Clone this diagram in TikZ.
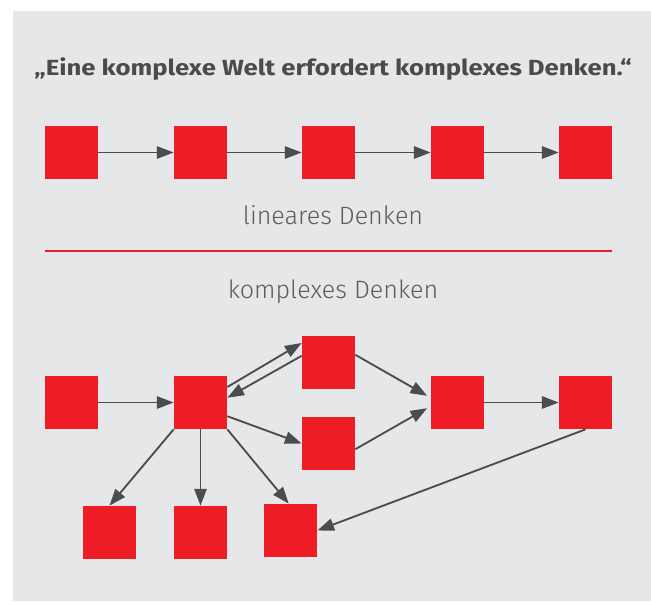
\documentclass[tikz,border=0pt]{standalone}
\usepackage{fontspec}
\setmainfont{Fira Sans}
\newfontfamily\thinfont{Fira Sans Light}
\usepackage{tikz}
\usetikzlibrary{arrows.meta}

\definecolor{panelgrey}{HTML}{E6E7E9}
\definecolor{boxred}{HTML}{EE1D25}
\definecolor{arrowgrey}{HTML}{4B4C4E}
\definecolor{textgrey}{HTML}{4A4B4D}
\definecolor{labelgrey}{HTML}{5B5C5E}

\begin{document}
\begin{tikzpicture}[x=0.02cm, y=-0.02cm,
    box/.style={fill=boxred, draw=none, inner sep=0pt, minimum size=1.06cm},
    flow/.style={draw=arrowgrey, line width=1.05pt, -{Triangle[length=9.5pt, width=7pt]}},
    caption/.style={text=labelgrey, font=\thinfont\fontsize{14.3}{16}\selectfont, anchor=base}]
    \useasboundingbox (0, 0) rectangle (651, 601);
    \fill[panelgrey] (13, 11) rectangle (651, 601);

    \node[text=textgrey, font=\bfseries\fontsize{12.5}{14}\selectfont, anchor=base] (title) at (333, 76)
        {\scalebox{1.17}[1]{„Eine komplexe Welt erfordert komplexes Denken.“}};

    % linear
    \foreach \i/\x in {1/71.5, 2/200.5, 3/328.5, 4/457.5, 5/585.5}
        \node[box] (l\i) at (\x, 152.5) {};
    \foreach \i/\j in {1/2, 2/3, 3/4, 4/5}
        \draw[flow] (l\i.east) -- (l\j.west);
    \node[caption] (lin) at (333, 224) {lineares Denken};

    \draw[boxred, line width=1.1pt] (45, 251) coordinate (sepl) -- (612, 251) coordinate (sepr);

    % complex
    \node[caption] (kom) at (333, 298) {komplexes Denken};
    \node[box] (start) at (71.5, 402.5) {};
    \node[box] (hub) at (200.5, 402.5) {};
    \node[box] (upper) at (328.5, 362.5) {};
    \node[box] (lower) at (328.5, 443.5) {};
    \node[box] (merge) at (457.5, 402.5) {};
    \node[box] (last) at (585.5, 402.5) {};
    \node[box] (leaf1) at (109.5, 532.5) {};
    \node[box] (leaf2) at (200.5, 532.5) {};
    \node[box] (leaf3) at (290.5, 530.5) {};

    \draw[flow] (start.east) -- (hub.west);
    \draw[flow] (hub.30) -- (upper.144);
    \draw[flow] (upper.166) -- (hub.10);
    \draw[flow] (hub.-27) -- (lower.west);
    \draw[flow] (upper.16) -- ([xshift=-2pt]merge.166);
    \draw[flow] (lower.-12) -- ([xshift=-2pt]merge.192);
    \draw[flow] (merge.east) -- (last.west);
    \draw[flow] (hub.south west) -- (leaf1.north);
    \draw[flow] (hub.south) -- (leaf2.north);
    \draw[flow] (hub.south east) -- ([xshift=-1pt]leaf3.north);
    \draw[flow] (last.south) -- (leaf3.east);
\end{tikzpicture}
\end{document}
